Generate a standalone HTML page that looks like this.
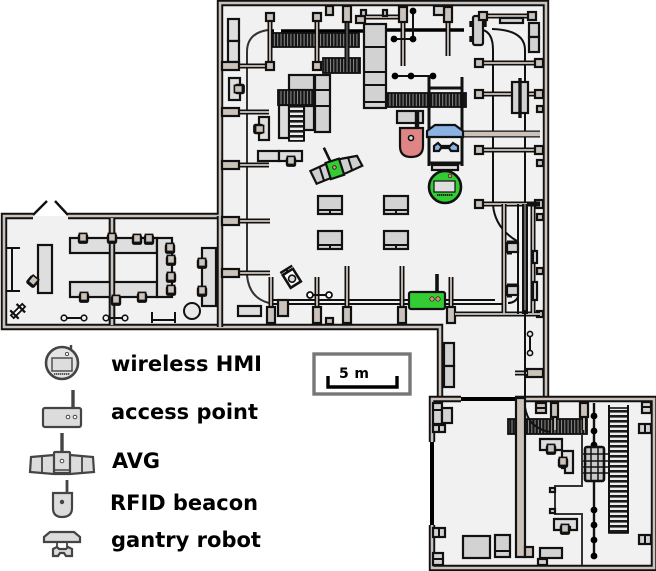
<!DOCTYPE html>
<html><head><meta charset="utf-8"><style>
html,body{margin:0;padding:0;background:#fff}
svg{display:block}
text{font-family:"DejaVu Sans",sans-serif;font-weight:bold;fill:#000}
.b{fill:#cbc3bb;stroke:#111;stroke-width:2.2}
.g{fill:#d2d2d2;stroke:#111;stroke-width:2.2}
.l{fill:#dedede;stroke:#111;stroke-width:2.2}
.n{fill:none;stroke:#111;stroke-width:2}
.t{fill:none;stroke:#333;stroke-width:2}
.k{fill:none;stroke:#000;stroke-width:3.4}
.c{fill:url(#hat);stroke:#111;stroke-width:1.8}
.c2{fill:url(#hat2);stroke:#111;stroke-width:1.6}
.wo{fill:none;stroke:#111;stroke-width:6.4}
.wi{fill:none;stroke:#cbc3bb;stroke-width:2.6}
.bo{fill:none;stroke:#111;stroke-width:5}
.bi{fill:none;stroke:#b9b1aa;stroke-width:2}
.lg{fill:#dcdcdc;stroke:#444;stroke-width:2.2}
.lk{fill:none;stroke:#444;stroke-width:3.4}
</style></head><body>
<svg width="656" height="571" viewBox="0 0 656 571" xmlns="http://www.w3.org/2000/svg">
<defs>
<pattern id="hat" width="3.3" height="10" patternUnits="userSpaceOnUse"><rect width="3.3" height="10" fill="#151515"/><rect width="1" height="10" fill="#8c8c8c"/></pattern>
<pattern id="hat2" width="10" height="5" patternUnits="userSpaceOnUse"><rect width="10" height="5" fill="#eee"/><rect width="10" height="2.6" fill="#1a1a1a"/></pattern>
<g id="p"><rect x="-4" y="-4" width="8" height="8" class="b"/></g>
<g id="ch"><rect x="-5.2" y="-4.5" width="10.4" height="10.4" rx="2.4" fill="#111"/><rect x="-3.6" y="-4.6" width="7.2" height="8" fill="#cbc3bb" stroke="#111" stroke-width="1.6"/></g>
<g id="bar"><rect x="-4" y="0" width="8" height="16" class="b"/></g>
</defs>

<!-- floors -->
<path d="M220,3H546V397H654V568H432V397H440V325H4V216H220Z" fill="#f1f1f1"/>

<!-- walls -->
<path class="wo" d="M68,216H220V3H546V398M33,216H4V327H440V398"/>
<path class="wi" d="M68,216H220V3H546V398M33,216H4V327H440V398"/>
<path class="wo" d="M220,216V327M112,218V325"/>
<path class="wi" d="M220,216V327M112,218V325"/>
<path class="n" style="stroke-width:2.4" d="M33,215L47,201M68,215L55,201"/>
<!-- lower room walls -->
<path class="wo" d="M461,399H432V442M432,525V568H654V399H515"/>
<path class="wi" d="M461,399H432V442M432,525V568H654V399H515"/>
<path d="M461,399H516M432,442V525" stroke="#000" stroke-width="4" fill="none"/>

<!-- long lines -->
<path class="t" d="M247,275V52Q247,33 268,30M247,275Q249,298 269,303"/>
<path class="n" d="M483,30Q493,33 493,50V130M493,130V205Q495,228 517,241"/>
<path class="n" d="M492,29Q525,30 525,50V398M525,398V557"/>
<path class="k" d="M268,31H274M281,31H364M380,30H464"/>
<path stroke="#fff" stroke-width="2" d="M274,31H281"/>

<!-- top-left area -->
<rect x="228" y="19" width="11" height="22" class="l"/><rect x="228" y="41" width="11" height="21" class="l"/>
<rect x="271" y="33" width="88" height="14" class="c"/>
<rect x="323" y="58" width="37" height="15" class="c"/>
<path class="bo" d="M270,17V66M317,17V66M239,66H270"/><path class="bi" d="M270,17V66M317,17V66M239,66H270"/>
<rect x="222" y="62" width="17" height="8" class="b"/>
<use href="#p" x="270" y="17"/><use href="#p" x="270" y="66"/><use href="#p" x="317" y="17"/><use href="#p" x="317" y="66"/>
<rect x="326" y="6" width="7" height="9" class="b"/>
<path class="bo" d="M347,22V70"/><path stroke="#666" stroke-width="1.4" d="M347,22V70"/>
<rect x="343" y="6" width="8" height="16" class="b"/>
<!-- big machine -->
<rect x="364" y="24" width="22" height="84" class="g"/>
<path class="n" d="M364,47H386M364,72H386M364,85H386M364,102H386"/>
<rect x="356" y="16" width="9" height="7" class="b"/><rect x="361" y="10" width="5" height="6" class="b"/>
<path class="bo" d="M366,17H400"/><path class="bi" d="M366,17H400"/>
<rect x="383" y="10" width="4" height="6" class="b"/>
<path class="bo" d="M403,22V66M448,22V56"/><path class="bi" d="M403,22V66M448,22V56"/>
<rect x="399" y="7" width="8" height="15" class="b"/><rect x="444" y="7" width="8" height="15" class="b"/>
<rect x="434" y="6" width="10" height="9" class="g"/>
<path class="n" d="M413,11V39H394"/><circle cx="413" cy="11" r="3.4"/><circle cx="413" cy="39" r="3.4"/><circle cx="394" cy="39" r="3.4"/>
<!-- center machine -->
<rect x="289" y="75" width="25" height="15" class="g"/>
<rect x="315" y="75" width="15" height="57" class="g"/><path class="n" d="M315,90H330M315,106H330"/>
<rect x="279" y="105" width="10" height="33" class="l"/>
<rect x="304" y="106" width="10" height="24" class="g"/>
<rect x="278" y="90" width="36" height="15" class="c"/>
<rect x="289" y="106" width="15" height="35" class="c2"/>
<path class="n" d="M289,106V141M304,106V141"/>
<!-- left side stubs & desks -->
<path class="bo" d="M239,112H269M239,165H269M239,221H270M239,273H270"/><path class="bi" d="M239,112H269M239,165H269M239,221H270M239,273H270"/>
<rect x="222" y="108" width="17" height="8" class="b"/><rect x="222" y="161" width="17" height="8" class="b"/><rect x="222" y="217" width="17" height="8" class="b"/><rect x="222" y="269" width="17" height="8" class="b"/>
<rect x="229" y="78" width="11" height="22" class="l"/><g transform="translate(239,89) rotate(-90)"><use href="#ch"/></g>
<rect x="259" y="117" width="10" height="23" class="l"/><g transform="translate(259,129) rotate(90)"><use href="#ch"/></g>
<rect x="258" y="151" width="21" height="10" class="l"/><rect x="279" y="151" width="23" height="10" class="l"/><use href="#ch" x="291" y="161"/>
<!-- AVG -->
<g transform="translate(336,169) rotate(-18)">
<path d="M-25,-6L-8,-8H9L24,-6L26,5L9,7H-8L-23,8Z" fill="#cfcfcf" stroke="#111" stroke-width="2.2"/>
<path class="n" d="M-15,-7V7M15,-7V7"/>
<rect x="-8" y="-9" width="14" height="17" fill="#33cc33" stroke="#111" stroke-width="2.2"/>
<circle cx="-1" cy="-2" r="1.8" fill="#e88" stroke="#111" stroke-width="0.8"/>
<path d="M-3,-9L-5,-24" stroke="#111" stroke-width="2.6"/>
</g>
<!-- tables -->
<g id="d1"><rect x="318" y="196" width="24" height="18" class="g"/><path class="n" d="M318,210H342M330,210V214"/></g>
<use href="#d1" y="35"/><use href="#d1" x="66"/><use href="#d1" x="66" y="35"/>
<!-- small robot -->
<g transform="translate(291,277) rotate(-32)">
<rect x="-6" y="-6" width="12" height="15" fill="#fff" stroke="#111" stroke-width="2.6"/>
<path class="n" d="M-7,-9H7M0,-9V-6" style="stroke-width:2.4"/>
<circle cx="0" cy="2" r="3.5" fill="#ddd" stroke="#111" stroke-width="1.6"/>
</g>
<!-- bottom posts -->
<path class="n" d="M271,300H495M271,304H505"/>
<path class="bo" d="M271,277V307M317,277V307M347,266V307M402,266V307M451,277V307"/><path class="bi" d="M271,277V307M317,277V307M347,266V307M402,266V307M451,277V307"/>
<use href="#bar" x="271" y="307"/><use href="#bar" x="317" y="307"/><use href="#bar" x="347" y="307"/><use href="#bar" x="402" y="307"/><use href="#bar" x="451" y="307"/>
<rect x="278" y="300" width="10" height="16" class="b"/>
<rect x="326" y="318" width="7" height="6" class="b"/>
<rect x="238" y="306" width="23" height="10" class="l"/>
<path class="n" d="M313,295H326"/><circle cx="310" cy="295" r="3" fill="#fff" stroke="#111" stroke-width="1.8"/><circle cx="329" cy="295" r="3" fill="#fff" stroke="#111" stroke-width="1.8"/>

<!-- top right -->
<rect x="473" y="16" width="10" height="29" rx="2" fill="#cfcfcf" stroke="#111" stroke-width="2.2"/>
<path stroke="#111" stroke-width="3.4" d="M471,21V27M471,36V42M485,21V27"/>
<path class="bo" d="M483,16H532M479,63H539M479,94H539M479,150H539M479,204H539"/><path class="bi" d="M483,16H532M479,63H539M479,94H539M479,150H539M479,204H539"/>
<rect x="500" y="18" width="23" height="5" class="g"/>
<rect x="529" y="23" width="10" height="14" class="g"/><rect x="529" y="37" width="10" height="15" class="g"/>
<use href="#p" x="483" y="16"/><use href="#p" x="532" y="16"/><use href="#p" x="479" y="63"/><use href="#p" x="539" y="63"/><use href="#p" x="479" y="94"/><use href="#p" x="539" y="94"/><use href="#p" x="479" y="150"/><use href="#p" x="539" y="150"/><use href="#p" x="479" y="204"/><use href="#p" x="539" y="204"/>
<rect x="512" y="82" width="16" height="31" class="g"/><path stroke="#111" stroke-width="3.4" d="M520,78V118"/>
<rect x="537" y="106" width="6" height="6" class="b"/><rect x="537" y="160" width="6" height="6" class="b"/><rect x="537" y="214" width="6" height="6" class="b"/><rect x="537" y="268" width="6" height="6" class="b"/><rect x="537" y="311" width="6" height="6" class="b"/>

<!-- gantry -->
<path class="n" d="M395,76H433"/><circle cx="395" cy="76" r="3.4"/><circle cx="411" cy="76" r="3.4"/><circle cx="433" cy="76" r="3.4"/>
<rect x="387" y="93" width="79" height="14" class="c"/>
<path stroke="#111" stroke-width="3" fill="none" d="M429,77V166M462,77V166M429,88H462M429,163H462"/>
<rect x="397" y="111" width="26" height="12" class="g"/>
<path d="M417,112V130" stroke="#111" stroke-width="4.4"/>
<path d="M400,128H423V146Q423,157 411,157Q400,157 400,146Z" fill="#e08585" stroke="#111" stroke-width="2.2"/>
<circle cx="411" cy="138" r="2.5" fill="#ddd" stroke="#111" stroke-width="1.6"/>
<path d="M463,134H540" stroke="#111" stroke-width="7"/><path d="M463,134H540" stroke="#cbc3bb" stroke-width="4.4"/>
<path d="M427,131L435,125H455L463,131V137H427Z" fill="#8ab2e2" stroke="#111" stroke-width="2.2"/>
<path d="M434,151V146L438,143L441,146H450L453,143L458,146V151H451L449,148H441L439,151Z" fill="#8ab2e2" stroke="#111" stroke-width="2.2"/>
<rect x="432" y="165" width="26" height="5" class="l"/>
<!-- HMI -->
<circle cx="445" cy="187" r="16" fill="#33cc33" stroke="#111" stroke-width="2.6"/>
<rect x="434" y="181" width="21" height="11" fill="#dedede" stroke="#111" stroke-width="1.2"/>
<circle cx="450" cy="176" r="1.8" fill="#e88" stroke="#111" stroke-width="0.7"/>
<path d="M437,195H453" stroke="#111" stroke-width="1.8" stroke-dasharray="1.4 .6"/>

<!-- right rack -->
<path class="bo" d="M504,204V314M533,204V314M455,314H540"/><path class="bi" d="M504,204V314M533,204V314M455,314H540"/>
<path class="n" d="M518,204V314"/>
<path stroke="#111" stroke-width="6" d="M525,204V314"/><path stroke="#ddd" stroke-width=".8" d="M525,204V314"/>
<rect x="507" y="243" width="11" height="9" class="g"/><rect x="507" y="286" width="11" height="9" class="g"/>
<path stroke="#111" stroke-width="3" d="M507,242H518M507,285H518M507,253H512M507,296H512"/>
<rect x="533" y="251" width="4" height="12" class="l"/><rect x="533" y="282" width="4" height="18" class="l"/>
<path class="n" d="M508,303Q515,303 518,297"/>
<path class="bo" d="M527,204H540"/>
<!-- access point -->
<path d="M437,274V292" stroke="#111" stroke-width="3.6"/>
<rect x="409" y="292" width="36" height="17" rx="2" fill="#33cc33" stroke="#111" stroke-width="2.2"/>
<circle cx="432" cy="299" r="2.2" fill="#e88" stroke="#111" stroke-width=".7"/><circle cx="438" cy="299" r="2.2" fill="#e88" stroke="#111" stroke-width=".7"/>

<!-- corridor -->
<path class="n" d="M530,337V350"/><circle cx="530" cy="334" r="2.6" fill="#f1f1f1" stroke="#111" stroke-width="1.6"/><circle cx="530" cy="353" r="2.6" fill="#f1f1f1" stroke="#111" stroke-width="1.6"/>
<rect x="444" y="343" width="10" height="23" class="g"/><rect x="444" y="366" width="10" height="21" class="g"/>
<rect x="527" y="369" width="16" height="8" class="b"/>
<path class="bo" d="M515,373H527"/><path class="bi" d="M515,373H527"/>
<path class="n" d="M525,310V398"/>

<!-- lower room -->
<rect x="508" y="419" width="79" height="15" class="c"/>
<rect x="536" y="403" width="10" height="10" class="b"/><path class="n" d="M536,408H546"/>
<path class="bo" d="M555,417V430M584,417V430"/><path class="bi" d="M555,417V430M584,417V430"/>
<rect x="551" y="403" width="7" height="14" class="b"/><rect x="580" y="403" width="8" height="14" class="b"/>
<rect x="516" y="398" width="9" height="159" fill="#cbc3bb" stroke="#111" stroke-width="2.2"/>
<rect x="525" y="547" width="8" height="10" class="b"/>
<path class="n" d="M525,407Q528,428 550,432"/>
<path class="n" style="stroke-width:2.4" d="M594,403V556"/>
<g fill="#000"><circle cx="594" cy="416" r="3.4"/><circle cx="594" cy="431" r="3.4"/><circle cx="594" cy="445" r="3.4"/><circle cx="594" cy="510" r="3.4"/><circle cx="594" cy="525" r="3.4"/><circle cx="594" cy="540" r="3.4"/><circle cx="594" cy="556" r="3.4"/></g>
<rect x="609" y="408" width="19" height="125" class="c2"/>
<path class="n" d="M609,405V533M628,405V533"/>
<rect x="585" y="447" width="19" height="34" rx="2" fill="#c8c8c8" stroke="#111" stroke-width="2.6"/>
<path class="n" d="M582,454H608M582,461H608M582,467H608M582,473H608M591,447V481M598,447V481" style="stroke-width:1.5"/>
<path class="l" d="M540,439H562V450H555V447H548V450H540Z"/>
<path class="l" d="M562,451H573V473H565V468H562Z"/>
<use href="#ch" x="551" y="449"/><use href="#ch" x="563" y="462"/>
<path class="t" d="M582,435V486H555V514H582V565"/>
<rect x="550" y="488" width="5" height="4" class="l"/><rect x="550" y="509" width="5" height="4" class="l"/>
<path class="l" d="M554,519H577V530H570V527H561V530H554Z"/><use href="#ch" x="565" y="529"/>
<rect x="433" y="403" width="9" height="21" class="g"/><path class="n" d="M433,410H442"/>
<rect x="442" y="408" width="10" height="15" class="g"/>
<rect x="433" y="425" width="12" height="7" class="g"/><path class="n" d="M439,425V432"/>
<rect x="433" y="528" width="12" height="9" class="g"/><path class="n" d="M439,528V537"/>
<rect x="433" y="553" width="10" height="12" class="g"/><path class="n" d="M433,559H443"/>
<rect x="463" y="536" width="27" height="22" class="g"/>
<rect x="495" y="535" width="15" height="22" class="g"/><path class="n" d="M495,551H510"/>
<rect x="540" y="548" width="22" height="10" class="g"/><rect x="538" y="559" width="9" height="6" class="g"/>
<rect x="642" y="402" width="9" height="11" class="g"/><path class="n" d="M642,407H651"/>
<rect x="639" y="424" width="12" height="9" class="g"/><path class="n" d="M645,424V433"/>
<rect x="639" y="535" width="12" height="9" class="g"/><path class="n" d="M645,535V544"/>

<!-- left room -->
<rect x="70" y="238" width="87" height="15" class="l"/><rect x="70" y="282" width="87" height="15" class="l"/><rect x="157" y="238" width="15" height="59" class="l"/>
<rect x="38" y="245" width="14" height="48" class="l"/>
<path class="n" d="M7,248H20M7,291H20M12,248V291"/>
<rect x="202" y="248" width="14" height="58" class="l"/>
<path class="wo" d="M112,218V325"/><path class="wi" d="M112,218V325"/>
<use href="#ch" x="83" y="238"/><use href="#ch" x="112" y="238"/><use href="#ch" x="137" y="239"/><use href="#ch" x="149" y="239"/>
<use href="#ch" x="170" y="248"/><use href="#ch" x="171" y="260"/><use href="#ch" x="171" y="277"/><use href="#ch" x="171" y="290"/>
<use href="#ch" x="84" y="297"/><use href="#ch" x="116" y="300"/><use href="#ch" x="142" y="297"/><use href="#ch" x="202" y="263"/><use href="#ch" x="202" y="291"/>
<g transform="translate(33,281) rotate(40)"><use href="#ch"/></g>
<circle cx="192" cy="311" r="8" fill="#e8e8e8" stroke="#111" stroke-width="2"/>
<g transform="translate(18,311) rotate(-45)"><rect x="-8" y="-2" width="16" height="4" fill="#fff" stroke="#111" stroke-width="1.8"/><path stroke="#111" stroke-width="2.2" d="M-5,-6V6M4,-6V6"/></g>
<path class="n" d="M64,318H84M106,318H125"/>
<g fill="#f1f1f1" stroke="#111" stroke-width="1.6"><circle cx="64" cy="318" r="2.8"/><circle cx="84" cy="318" r="2.8"/><circle cx="106" cy="318" r="2.8"/><circle cx="125" cy="318" r="2.8"/></g>
<path class="n" d="M152,312V323M175,312V323M152,320H175"/>

<!-- scale -->
<rect x="314" y="354" width="96" height="40" fill="#fff" stroke="#777" stroke-width="3.4"/>
<path d="M328,376V387H397V376" fill="none" stroke="#000" stroke-width="3.4"/>
<text x="339" y="378" font-size="14" textLength="30">5 m</text>

<!-- legend icons -->
<path class="lk" style="stroke-width:2.4" d="M71,345V352"/>
<circle cx="62" cy="363" r="16" fill="#e4e4e4" stroke="#444" stroke-width="2.6"/>
<rect x="52" y="358" width="20" height="13" fill="#ddd" stroke="#444" stroke-width="1.4"/>
<circle cx="67" cy="354" r="1.6" fill="#fff" stroke="#444" stroke-width=".9"/>
<path d="M54,374H70" stroke="#444" stroke-width="1.8" stroke-dasharray="1.4 .6"/>
<path class="lk" d="M73,390V408"/>
<rect x="43" y="408" width="38" height="19" rx="2" class="lg"/>
<circle cx="68" cy="417" r="1.8" fill="#fff" stroke="#444" stroke-width="1"/><circle cx="75" cy="417" r="1.8" fill="#fff" stroke="#444" stroke-width="1"/>
<path class="lk" d="M62,433V452"/>
<path class="lg" d="M31,457L54,455H70L93,457L94,472L70,474H54L30,472Z"/>
<path d="M42,456V473M82,456V473" stroke="#444" stroke-width="1.8"/>
<rect x="54" y="452" width="16" height="21" rx="1" class="lg"/><path d="M54,470H70" stroke="#444" stroke-width="1.5"/>
<circle cx="62" cy="461" r="1.8" fill="#fff" stroke="#444" stroke-width="1"/>
<path class="lk" style="stroke-width:2.8" d="M67,480V494"/>
<path class="lg" d="M53,493H72V508Q72,517 62,517Q53,517 53,508Z"/>
<circle cx="62" cy="502" r="2.2" fill="#444"/>
<path class="lg" d="M44,537L50,532H74L80,537V542H44Z"/>
<path class="lg" d="M53,556V549L57,547L59,549H66L68,547L72,549V556H66L64,553H60L58,556Z"/>
<path d="M57,542V547M67,542V547" stroke="#444" stroke-width="1.8"/>

<!-- legend text -->
<text x="111" y="371" font-size="21" textLength="151" lengthAdjust="spacingAndGlyphs">wireless HMI</text>
<text x="111" y="419" font-size="21" textLength="147" lengthAdjust="spacingAndGlyphs">access point</text>
<text x="112" y="468" font-size="21" textLength="48" lengthAdjust="spacingAndGlyphs">AVG</text>
<text x="110" y="510" font-size="21" textLength="148" lengthAdjust="spacingAndGlyphs">RFID beacon</text>
<text x="111" y="547" font-size="21" textLength="150" lengthAdjust="spacingAndGlyphs">gantry robot</text>
</svg>
</body></html>
